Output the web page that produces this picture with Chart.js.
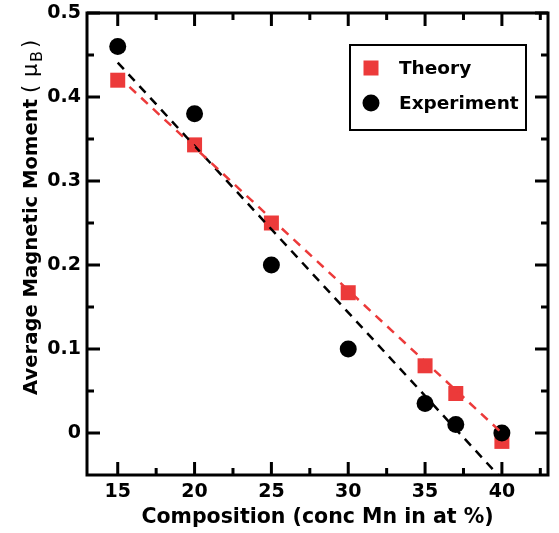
<!DOCTYPE html>
<html>
<head>
<meta charset="utf-8">
<script src="https://cdn.jsdelivr.net/npm/chart.js@4.4.1/dist/chart.umd.min.js"></script>
<style>
  html, body { margin: 0; padding: 0; background: #fff; }
  #wrap { width: 559px; height: 533px; }
</style>
</head>
<body>
<div id="wrap"><canvas id="momentChart" width="559" height="533"></canvas></div>
<script>
// composition (at % Mn) and moments
const composition = [15, 20, 25, 30, 35, 37, 40];
const theoryMoment = [0.42, 0.343, 0.25, 0.167, 0.08, 0.047, -0.01];
const experimentMoment = [0.46, 0.38, 0.2, 0.1, 0.035, 0.01, 0.0];

// dashed fit lines (end points)
const theoryFitX = [15, 40];
const theoryFitY = [0.425, 0.0];
const experimentFitX = [15, 39.75];
const experimentFitY = [0.441, -0.05];

// axis ticks
const xTicks = [15, 20, 25, 30, 35, 40];
const xMinorTicks = [17.5, 22.5, 27.5, 32.5, 37.5, 42.5];
const yTicks = [0, 0.1, 0.2, 0.3, 0.4, 0.5];
const yMinorTicks = [0.05, 0.15, 0.25, 0.35, 0.45];

const xTitle = 'Composition (conc Mn in at %)';
const yTitle = 'Average Magnetic Moment';
const legendLabels = ['Theory', 'Experiment'];

const RED = '#ec3a3a';
const FONT = '"DejaVu Sans", Verdana, sans-serif';

function toPoints(xs, ys) {
    return xs.map((x, i) => ({ x: x, y: ys[i] }));
}

// frame + inward ticks on all four sides, axis titles, legend
const decorPlugin = {
    id: 'decor',
    afterDatasetsDraw(chart) {
        const ctx = chart.ctx;
        const a = chart.chartArea;
        const xs = chart.scales.x;
        const ys = chart.scales.y;
        ctx.save();
        ctx.strokeStyle = '#000';
        ctx.lineWidth = 3;
        ctx.lineCap = 'butt';

        // ticks
        const major = 13, minor = 7;
        const vTick = (v, len) => {
            const px = xs.getPixelForValue(v);
            ctx.beginPath();
            ctx.moveTo(px, a.bottom); ctx.lineTo(px, a.bottom - len);
            ctx.moveTo(px, a.top); ctx.lineTo(px, a.top + len);
            ctx.stroke();
        };
        const hTick = (v, len) => {
            const py = ys.getPixelForValue(v);
            ctx.beginPath();
            ctx.moveTo(a.left, py); ctx.lineTo(a.left + len, py);
            ctx.moveTo(a.right, py); ctx.lineTo(a.right - len, py);
            ctx.stroke();
        };
        xTicks.forEach(v => vTick(v, major));
        xMinorTicks.forEach(v => vTick(v, minor));
        yTicks.forEach(v => hTick(v, major));
        yMinorTicks.forEach(v => hTick(v, minor));

        // frame
        ctx.strokeRect(a.left, a.top, a.right - a.left, a.bottom - a.top);

        // x title
        ctx.fillStyle = '#000';
        ctx.font = 'bold 20.5px ' + FONT;
        ctx.textAlign = 'center';
        ctx.textBaseline = 'alphabetic';
        ctx.fillText(xTitle, (a.left + a.right) / 2, 523);

        // y title, rotated, with (mu_B) in regular weight
        ctx.translate(37, 395);
        ctx.rotate(-Math.PI / 2);
        ctx.textAlign = 'left';
        ctx.font = 'bold 19.6px ' + FONT;
        ctx.fillText(yTitle, 0, 0);
        ctx.font = '21px ' + FONT;
        ctx.fillText('(', 302, 0);
        ctx.fillText('\u03bc', 318, 0);
        ctx.font = '16px ' + FONT;
        ctx.fillText('B', 333, 5);
        ctx.font = '21px ' + FONT;
        ctx.fillText(')', 347, 0);
        ctx.restore();

        // legend box
        ctx.save();
        const box = { left: 350, top: 45, right: 526, bottom: 130 };
        ctx.fillStyle = '#fff';
        ctx.fillRect(box.left, box.top, box.right - box.left, box.bottom - box.top);
        ctx.strokeStyle = '#000';
        ctx.lineWidth = 2;
        ctx.strokeRect(box.left, box.top, box.right - box.left, box.bottom - box.top);

        const rows = [68, 103];
        ctx.fillStyle = RED;
        ctx.fillRect(371 - 7.5, rows[0] - 7.5, 15, 15);
        ctx.fillStyle = '#000';
        ctx.beginPath();
        ctx.arc(371, rows[1], 8.5, 0, Math.PI * 2);
        ctx.fill();

        ctx.font = 'bold 18.5px ' + FONT;
        ctx.textAlign = 'left';
        ctx.textBaseline = 'middle';
        legendLabels.forEach((t, i) => ctx.fillText(t, 399, rows[i] + 1));
        ctx.restore();
    }
};

const ctx = document.getElementById('momentChart');

new Chart(ctx, {
    type: 'scatter',
    data: {
        datasets: [
            {
                label: 'Theory fit',
                type: 'line',
                data: toPoints(theoryFitX, theoryFitY),
                borderColor: RED,
                borderWidth: 2.5,
                borderDash: [9, 7],
                pointRadius: 0,
                fill: false,
                order: 0
            },
            {
                label: 'Experiment fit',
                type: 'line',
                data: toPoints(experimentFitX, experimentFitY),
                borderColor: '#000',
                borderWidth: 2.5,
                borderDash: [9, 7],
                pointRadius: 0,
                fill: false,
                order: 0
            },
            {
                label: legendLabels[1],
                data: toPoints(composition, experimentMoment),
                pointStyle: 'circle',
                pointRadius: 8.5,
                backgroundColor: '#000',
                borderColor: '#000',
                borderWidth: 0,
                order: 1
            },
            {
                label: legendLabels[0],
                data: toPoints(composition, theoryMoment),
                pointStyle: 'rect',
                pointRadius: 10.6,
                backgroundColor: RED,
                borderColor: RED,
                borderWidth: 0,
                order: 2
            }
        ]
    },
    options: {
        responsive: false,
        animation: false,
        events: [],
        layout: { padding: { top: 13, right: 11, left: 0, bottom: 0 } },
        plugins: {
            legend: { display: false },
            tooltip: { enabled: false }
        },
        scales: {
            x: {
                type: 'linear',
                min: 13,
                max: 43,
                grid: { display: false, drawTicks: false },
                border: { display: false },
                afterBuildTicks: s => { s.ticks = xTicks.map(v => ({ value: v })); },
                afterFit: s => { s.height = 58; s.paddingLeft = 0; s.paddingRight = 0; },
                ticks: {
                    color: '#000',
                    padding: 6,
                    maxRotation: 0,
                    font: { family: FONT, size: 19, weight: 'bold' }
                }
            },
            y: {
                type: 'linear',
                min: -0.05,
                max: 0.5,
                grid: { display: false, drawTicks: false },
                border: { display: false },
                afterBuildTicks: s => { s.ticks = yTicks.map(v => ({ value: v })); },
                afterFit: s => { s.width = 87; s.paddingTop = 0; s.paddingBottom = 0; },
                ticks: {
                    color: '#000',
                    padding: 6,
                    callback: v => String(Math.round(v * 10) / 10),
                    font: { family: FONT, size: 19, weight: 'bold' }
                }
            }
        }
    },
    plugins: [decorPlugin]
});
</script>
</body>
</html>
